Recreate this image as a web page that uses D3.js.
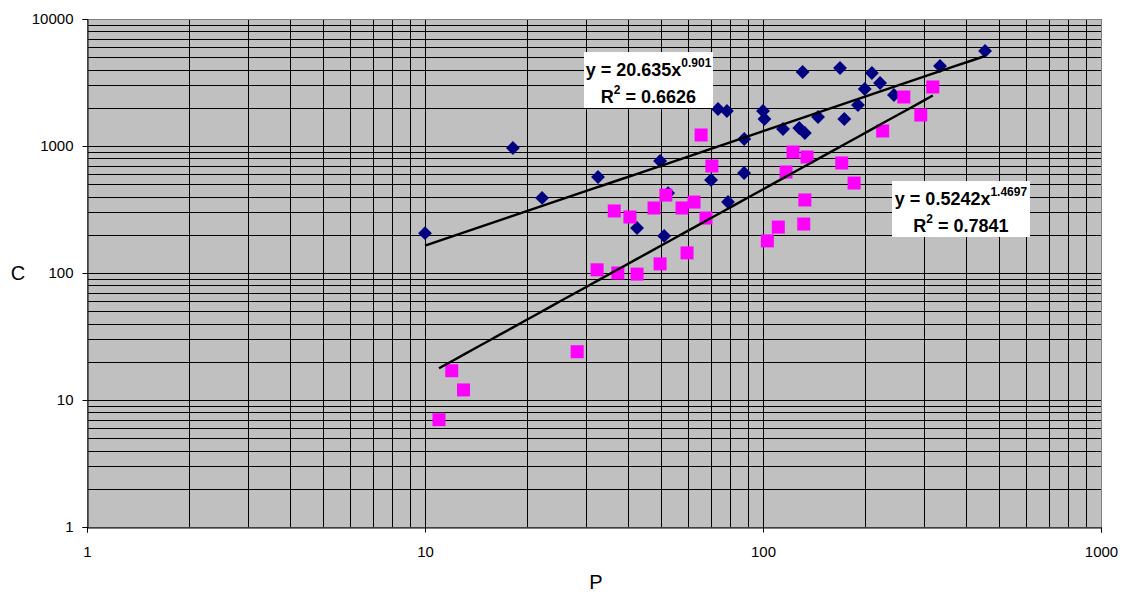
<!DOCTYPE html>
<html><head><meta charset="utf-8">
<script src="https://cdn.jsdelivr.net/npm/d3@7"></script>
<style>body{margin:0;background:#fff;} svg{display:block;font-family:Arial,"Liberation Sans",sans-serif;}</style>
</head><body><svg id="c" width="1122" height="592"></svg>
<script>
// Series 1 (blue diamonds): P, C
const blueP = [10, 18.2, 22.2, 32.5, 42.4, 49.6, 52.4, 51, 70.2, 78.8, 87.9, 88, 73.6, 78.2, 100, 101, 114.6, 128, 133, 131, 145.5, 169, 174, 210, 222, 200, 191, 244, 334, 454];
const blueC = [206, 964, 390, 570, 226, 762, 426, 196, 540, 362, 613, 1135, 1955, 1888, 1888, 1632, 1361, 1386, 1266, 3828, 1692, 4111, 1632, 3757, 3133, 2811, 2103, 2523, 4266, 5600];
// Series 2 (magenta squares): P, C
const pinkP = [11, 12, 13, 28.2, 32.3, 36.3, 37.2, 40.4, 42.4, 47.6, 49.6, 51.6, 57.6, 59.6, 62.5, 65.6, 67.8, 70.6, 103, 111, 117, 122.7, 132, 133, 135, 171, 186, 226, 261, 293, 318];
const pinkC = [7, 17, 12, 24, 106, 308, 100, 276, 98, 325, 118, 411, 325, 144, 362, 1221, 271, 696, 179, 230, 624, 897, 243, 376, 819, 735, 511, 1313, 2432, 1754, 2916];
// Power trendlines (coefficient, exponent, R², exponent label, coefficient label)
const blueFit = [20.635, 0.901, "0.6626", "0.901", "20.635"];
const pinkFit = [0.5242, 1.4697, "0.7841", "1.4697", "0.5242"];
// Tick labels
const xTicks = [1, 10, 100, 1000];
const yTicks = [1, 10, 100, 1000, 10000];

const svg = d3.select("#c");
const L = 87, R = 1101, T = 19, B = 527;
const x = d3.scaleLog().domain([1, 1000]).range([L, R]);
const y = d3.scaleLog().domain([1, 10000]).range([B, T]);

svg.append("rect").attr("x", L).attr("y", T).attr("width", R - L).attr("height", B - T).attr("fill", "#c0c0c0");

// gridlines (major + minor)
const gridVals = (lo, hi) => { const v = []; for (let d = lo; d < hi; d *= 10) for (let k = 1; k <= 9; k++) v.push(d * k); v.push(hi); return v; };
const g = svg.append("g").attr("stroke", "#000").attr("stroke-width", 1);
gridVals(1, 1000).forEach(v => g.append("line").attr("x1", Math.round(x(v)) + 0.5).attr("x2", Math.round(x(v)) + 0.5).attr("y1", T).attr("y2", B));
gridVals(1, 10000).forEach(v => g.append("line").attr("y1", Math.round(y(v)) + 0.5).attr("y2", Math.round(y(v)) + 0.5).attr("x1", L).attr("x2", R));

svg.append("rect").attr("x", L + 0.5).attr("y", T + 0.5).attr("width", R - L).attr("height", B - T).attr("fill", "none").attr("stroke", "#808080");

// axes
const xa = svg.append("g").attr("transform", `translate(0,${B + 0.5})`)
  .call(d3.axisBottom(x).tickValues(xTicks).tickFormat(d3.format("d")).tickSize(5).tickPadding(14));
const ya = svg.append("g").attr("transform", `translate(${L + 0.5},0)`)
  .call(d3.axisLeft(y).tickValues(yTicks).tickFormat(d3.format("d")).tickSize(5).tickPadding(9));
[xa, ya].forEach(a => { a.select(".domain").attr("stroke", "#000"); a.selectAll("line").attr("stroke", "#000");
  a.selectAll("text").attr("font-size", 15).attr("fill", "#000").attr("font-family", "Arial, 'Liberation Sans', sans-serif"); });

svg.append("text").attr("x", 18).attr("y", 280).attr("text-anchor", "middle").attr("font-size", 20).text("C");
svg.append("text").attr("x", 596).attr("y", 589).attr("text-anchor", "middle").attr("font-size", 20).text("P");

// points
const blue = blueP.map((p, i) => [p, blueC[i]]);
const pink = pinkP.map((p, i) => [p, pinkC[i]]);
svg.append("g").selectAll("path").data(blue).join("path")
  .attr("d", d3.symbol(d3.symbolSquare, 96)())
  .attr("transform", d => `translate(${x(d[0])},${y(d[1])}) rotate(45)`)
  .attr("fill", "#000080");
svg.append("g").selectAll("rect").data(pink).join("rect")
  .attr("x", d => x(d[0]) - 6.5).attr("y", d => y(d[1]) - 6.5).attr("width", 13).attr("height", 13)
  .attr("fill", "#ff00ff");

// trendlines
function trend(fit, pts) {
  const ext = d3.extent(pts, d => d[0]);
  const xs = d3.range(0, 41).map(i => ext[0] * Math.pow(ext[1] / ext[0], i / 40));
  svg.append("path").datum(xs)
    .attr("d", d3.line().x(v => x(v)).y(v => y(fit[0] * Math.pow(v, fit[1]))))
    .attr("fill", "none").attr("stroke", "#000").attr("stroke-width", 2.4);
}
trend(blueFit, blue);
trend(pinkFit, pink);

// equation labels
function label(fit, bx, by, bw, bh) {
  svg.append("rect").attr("x", bx).attr("y", by).attr("width", bw).attr("height", bh).attr("fill", "#fff");
  const cx = bx + bw / 2;
  const t1 = svg.append("text").attr("x", cx).attr("y", by + 24).attr("text-anchor", "middle")
    .attr("font-size", 18).attr("font-weight", "bold");
  t1.append("tspan").text("y = " + fit[4] + "x");
  t1.append("tspan").attr("dy", -9).attr("font-size", 12).text(fit[3]);
  const t2 = svg.append("text").attr("x", cx).attr("y", by + 51).attr("text-anchor", "middle")
    .attr("font-size", 18).attr("font-weight", "bold");
  t2.append("tspan").text("R");
  t2.append("tspan").attr("dy", -9).attr("font-size", 12).text("2");
  t2.append("tspan").attr("dy", 9).text(" = " + fit[2]);
}
label(blueFit, 584, 52, 129, 56);
label(pinkFit, 892, 181, 138, 56);
</script></body></html>
